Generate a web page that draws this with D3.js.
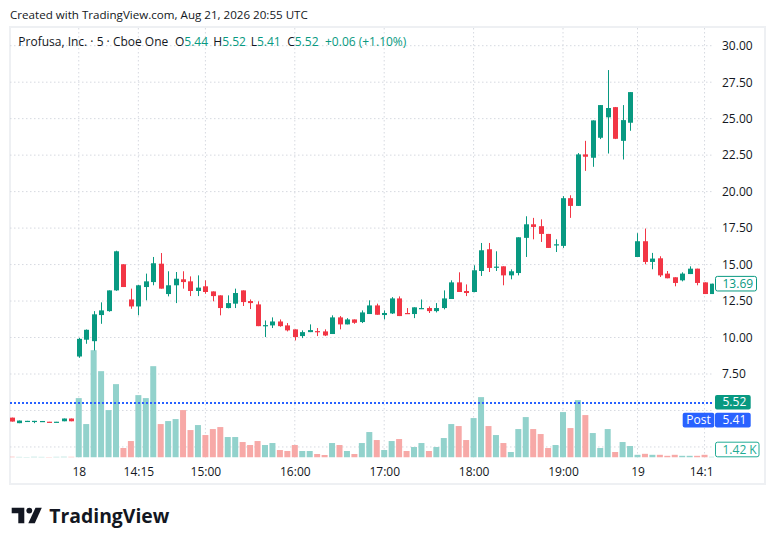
<!DOCTYPE html>
<html>
<head>
<meta charset="utf-8">
<script src="https://cdn.jsdelivr.net/npm/d3@7"></script>
<style>
body { margin: 0; background: #fff; }
text { font-family: "Open Sans", sans-serif; }
</style>
</head>
<body>
<script>
var width = 776, height = 546

// 5 min bars (index 0..94)
var opens  = [4.51,4.13,4.27,4.27,4.27,4.23,4.22,4.26,4.45,
  8.70,9.85,9.75,11.54,11.81,13.23,15.02,12.61,12.13,13.46,13.80,15.06,12.98,13.58,13.99,13.85,13.19,13.51,13.16,12.89,12.02,
  12.32,13.23,12.50,12.27,10.81,10.83,11.10,10.83,10.56,10.10,10.37,10.44,10.42,10.24,11.38,10.90,11.24,11.06,11.61,12.20,
  11.54,11.65,12.68,11.68,11.61,12.00,12.02,11.81,12.02,12.64,13.78,13.19,13.12,14.56,16.05,14.84,14.88,14.26,14.42,16.83,
  17.76,17.63,17.10,16.35,16.28,19.55,19.02,22.55,22.32,23.69,25.09,25.79,23.48,24.72,
  15.52,16.60,15.18,15.43,14.38,14.13,13.92,14.35,14.72,13.78,12.98]
var highs  = [4.51,4.31,4.29,4.29,4.28,4.23,4.23,4.45,4.45,
  9.98,10.55,11.81,12.41,13.23,15.95,15.02,13.35,13.60,14.38,15.52,15.79,14.54,14.49,14.54,14.19,14.26,13.92,13.16,12.89,12.89,
  13.35,13.23,12.61,12.48,11.17,11.38,11.24,10.99,10.56,10.49,10.90,10.65,10.56,11.52,11.47,11.33,11.24,11.86,12.55,12.32,
  11.86,12.77,12.82,12.02,12.07,12.61,12.13,12.36,13.23,13.92,14.47,13.64,14.95,16.48,16.48,15.91,14.88,14.67,16.87,18.31,
  18.20,18.10,17.10,16.73,19.69,19.75,22.64,23.48,24.88,25.93,28.33,25.80,25.93,26.82,
  17.15,17.47,15.80,15.57,14.56,14.13,14.47,14.88,14.72,13.78,13.69]
var lows   = [4.24,4.13,4.27,4.13,4.27,4.22,4.22,4.26,4.26,
  8.61,9.57,9.11,10.94,11.77,13.20,13.46,11.97,11.52,12.55,13.58,13.35,12.82,12.36,13.35,12.84,12.84,13.00,12.48,11.52,12.00,
  12.02,12.16,11.95,10.78,10.03,10.65,10.74,10.42,9.80,9.96,10.37,10.10,10.10,10.24,10.56,10.90,10.94,10.99,11.61,11.56,
  11.24,11.61,11.47,11.63,11.33,11.95,11.68,11.72,11.93,12.64,13.12,12.84,13.10,14.22,14.49,14.56,13.58,13.99,14.26,15.52,
  16.73,16.55,16.14,15.86,16.14,18.20,19.02,21.42,21.70,23.60,22.61,23.60,22.20,24.17,
  15.52,15.02,14.68,14.15,14.06,13.51,13.85,14.35,13.58,12.98,12.98]
var closes = [4.24,4.31,4.29,4.29,4.28,4.22,4.23,4.45,4.26,
  9.91,10.53,11.59,11.86,13.23,15.91,13.46,12.13,13.58,13.85,15.09,13.35,13.58,14.03,13.80,13.19,13.42,13.12,12.84,12.02,12.36,
  13.05,12.43,12.36,10.78,10.85,11.10,10.78,10.49,10.03,10.37,10.51,10.37,10.14,11.38,10.90,11.24,11.01,11.72,12.20,11.56,
  11.68,12.68,11.47,11.63,12.07,12.02,11.81,12.02,12.68,13.78,13.12,13.05,14.61,15.98,14.77,14.86,14.26,14.54,16.87,17.76,
  17.58,17.10,16.14,16.39,19.55,19.02,22.55,22.39,24.88,25.93,25.73,23.62,24.90,26.82,
  16.60,15.18,15.41,14.26,14.06,13.74,14.38,14.72,13.74,12.98,13.69]
// volume in thousands
var volumes = [1.6,1.2,1.0,1.4,1.2,1.0,1.3,1.5,1.4,
  119,67,215,173,95,147,19,33,125,119,183,67,73,77,95,55,65,45,57,61,41,
  41,31,25,33,25,29,15,13,25,13,13,7,5,29,25,13,7,29,51,35,
  15,33,37,13,21,29,13,21,39,67,63,35,79,121,63,45,29,11,57,81,
  57,47,19,25,91,59,115,85,49,19,57,11,31,23,
  5.4,7.4,5.4,5.4,3.4,5.4,3.4,3.4,3.4,5.4,1.42]

var timeTickIdx = [9, 17, 26, 38, 50, 62, 74, 84, 93]
var timeTickLabels = ["18", "14:15", "15:00", "16:00", "17:00", "18:00", "19:00", "19", "14:15"]
var gridPrices = [2.5, 5, 7.5, 10, 12.5, 15, 17.5, 20, 22.5, 25, 27.5, 30]
var labelPrices = [7.5, 10, 12.5, 15, 17.5, 20, 22.5, 25, 27.5, 30]

var lastPrice = 13.69, postClose = 5.52, postPrice = 5.41, lastVolume = "1.42 K"
var legendName = "Profusa, Inc. · 5 · Cboe One"
var legendKeys = ["O", "H", "L", "C"]
var legendVals = ["5.44", "5.52", "5.41", "5.52"]
var legendChange = "+0.06 (+1.10%)"

var upColor = "#089981", downColor = "#f23645"
var upVol = "#92d2cc", downVol = "#f7a9a7"
var dark = "#131722"

var plotL = 10, plotR = 714, plotT = 28, plotB = 457.5

var svg = d3.select("body")
  .append("svg")
  .attr("width", width)
  .attr("height", height)

var defs = svg.append("defs")
defs.append("clipPath").attr("id", "plotClip")
  .append("rect").attr("x", plotL).attr("y", plotT).attr("width", plotR - plotL).attr("height", plotB - plotT)
// clip is in the axis group's own (translated) coordinates
defs.append("clipPath").attr("id", "timeClip")
  .append("rect").attr("x", 0).attr("y", 0).attr("width", 712.5).attr("height", 26)

var bars = d3.range(opens.length)

var x = d3.scaleLinear().domain([0, bars.length - 1]).range([11.7, 712])
var y = d3.scaleLinear().domain([7.5, 30]).range([374, 45.7])
var v = d3.scaleLinear().domain([0, 215]).range([plotB, 350.2])

function isUp(i) { return closes[i] >= opens[i] }

// header
svg.append("text")
  .attr("x", 10).attr("y", 19)
  .attr("font-size", 11.6).attr("fill", dark)
  .text("Created with TradingView.com, Aug 21, 2026 20:55 UTC")

// frame
svg.append("rect")
  .attr("x", 10).attr("y", 27).attr("width", 755).attr("height", 457)
  .attr("fill", "none").attr("stroke", "#eef0f3").attr("stroke-width", 2)

// grid
var grid = svg.append("g").attr("stroke", "#d6d9e0").attr("stroke-dasharray", "1.5,2.5")
grid.selectAll(".hGrid")
  .data(gridPrices)
  .join("line")
  .attr("class", "hGrid")
  .attr("x1", plotL).attr("x2", plotR)
  .attr("y1", function(d) { return y(d) }).attr("y2", function(d) { return y(d) })
grid.selectAll(".vGrid")
  .data(timeTickIdx)
  .join("line")
  .attr("class", "vGrid")
  .attr("x1", function(d) { return x(d) }).attr("x2", function(d) { return x(d) })
  .attr("y1", plotT).attr("y2", plotB)

// legend line
var legend = svg.append("g").attr("font-size", 12)
legend.append("text").attr("x", 18.3).attr("y", 46).attr("fill", dark).text(legendName)
var legendX = [175, 213.3, 250.7, 287.3]
legendKeys.forEach(function(k, i) {
  var t = legend.append("text").attr("x", legendX[i]).attr("y", 46)
  t.append("tspan").attr("fill", dark).text(k)
  t.append("tspan").attr("fill", upColor).text(legendVals[i])
})
legend.append("text").attr("x", 325).attr("y", 46).attr("fill", upColor).text(legendChange)

var plot = svg.append("g").attr("clip-path", "url(#plotClip)")

// volume
plot.selectAll(".volBar")
  .data(bars)
  .join("rect")
  .attr("class", "volBar")
  .attr("x", function(i) { return x(i) - 3 })
  .attr("width", 6)
  .attr("y", function(i) { return v(volumes[i]) })
  .attr("height", function(i) { return plotB - v(volumes[i]) })
  .attr("fill", function(i) { return isUp(i) ? upVol : downVol })

// wicks
plot.selectAll(".wick")
  .data(bars)
  .join("line")
  .attr("class", "wick")
  .attr("x1", function(i) { return Math.round(x(i)) + 0.5 })
  .attr("x2", function(i) { return Math.round(x(i)) + 0.5 })
  .attr("y1", function(i) { return y(highs[i]) })
  .attr("y2", function(i) { return y(lows[i]) })
  .attr("stroke", function(i) { return isUp(i) ? upColor : downColor })
  .attr("stroke-width", 1)

// bodies
plot.selectAll(".body")
  .data(bars)
  .join("rect")
  .attr("class", "body")
  .attr("x", function(i) { return Math.round(x(i)) - 2 })
  .attr("width", 5)
  .attr("y", function(i) { return y(Math.max(opens[i], closes[i])) })
  .attr("height", function(i) { return Math.max(1.2, Math.abs(y(opens[i]) - y(closes[i]))) })
  .attr("fill", function(i) { return isUp(i) ? upColor : downColor })

// post market price line
plot.append("line")
  .attr("x1", plotL).attr("x2", plotR)
  .attr("y1", y(postClose)).attr("y2", y(postClose))
  .attr("stroke", "#2962ff").attr("stroke-width", 2).attr("stroke-dasharray", "2,2")

// price axis
var yAxis = svg.append("g")
  .attr("transform", "translate(722,0)")
  .call(d3.axisRight(y).tickValues(labelPrices).tickFormat(d3.format(".2f")).tickSize(0).tickPadding(0))
yAxis.select(".domain").remove()
yAxis.selectAll("text").attr("font-size", 12).attr("fill", dark).attr("font-family", "Open Sans, sans-serif")

// time axis
var xAxis = svg.append("g")
  .attr("transform", "translate(0," + plotB + ")")
  .attr("clip-path", "url(#timeClip)")
  .call(d3.axisBottom(x).tickValues(timeTickIdx).tickFormat(function(d, i) { return timeTickLabels[i] }).tickSize(0).tickPadding(9.5))
xAxis.select(".domain").remove()
xAxis.selectAll("text").attr("font-size", 12).attr("fill", dark).attr("font-family", "Open Sans, sans-serif")

// axis price tags
function tag(x0, yc, w, fill, stroke, txt, txtColor, tx, anchor) {
  svg.append("rect")
    .attr("x", x0).attr("y", yc - 7.3).attr("width", w).attr("height", 14.6).attr("rx", 2)
    .attr("fill", fill).attr("stroke", stroke || "none").attr("stroke-width", 1)
  svg.append("text")
    .attr("x", tx).attr("y", yc).attr("dy", "0.35em")
    .attr("text-anchor", anchor || "start")
    .attr("font-size", 12).attr("fill", txtColor).text(txt)
}
tag(715.5, y(lastPrice), 41, "#fff", upColor, d3.format(".2f")(lastPrice), upColor, 722.5)
tag(715, y(postClose) - 0.6, 35.7, upColor, null, d3.format(".2f")(postClose), "#fff", 722.5)
tag(682.7, y(postClose) + 17.2, 31.6, "#2962ff", null, "Post", "#fff", 698.5, "middle")
tag(715, y(postClose) + 17.2, 35.7, "#2962ff", null, d3.format(".2f")(postPrice), "#fff", 722.5)
tag(715.5, plotB - 8, 43.5, "#fff", "#22ab94", lastVolume, "#22ab94", 722.5)

// logo
var logo = svg.append("g").attr("fill", "#131722")
logo.append("path").attr("d", "M11.7,507.7 H24.3 V523.3 H18.3 V513.3 H11.7 Z")
logo.append("circle").attr("cx", 29.3).attr("cy", 510.6).attr("r", 2.9)
logo.append("path").attr("d", "M35.5,507.7 H41.8 L34.8,523.3 H28.3 Z")
logo.append("text")
  .attr("x", 49.3).attr("y", 523.3)
  .attr("font-family", "Inter, sans-serif").attr("font-weight", 700)
  .attr("font-size", 20).attr("textLength", 120).attr("lengthAdjust", "spacingAndGlyphs")
  .text("TradingView")
</script>
</body>
</html>
